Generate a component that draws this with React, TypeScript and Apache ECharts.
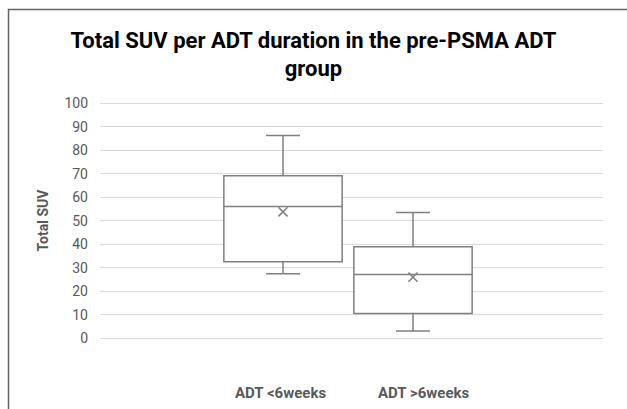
import React, { useEffect, useRef } from "react";
import * as echarts from "echarts";

const titleText = "Total SUV per ADT duration in the pre-PSMA ADT\ngroup";
const yAxisName = "Total SUV";
const categories = ["ADT <6weeks", "ADT >6weeks"];
const minValues = [27.3, 3.0];
const q1Values = [32.5, 10.4];
const medianValues = [56.0, 27.0];
const q3Values = [69.0, 38.8];
const maxValues = [86.2, 53.4];
const meanValues = [53.7, 25.9];

const STROKE = "#7f7f7f";
const TEXT_GRAY = "#595959";
const FONT = "Roboto, 'Open Sans', sans-serif";

export default function App() {
  const ref = useRef<HTMLDivElement>(null);
  useEffect(() => {
    if (!ref.current) return;
    const chart = echarts.init(ref.current, null, { renderer: "svg" });

    const renderItem = (params: any, api: any) => {
      const idx = api.value(0);
      const bandW = api.size([1, 0])[0];
      const boxW = bandW * 0.91;
      const capW = bandW * 0.262;
      const pMin = api.coord([idx, api.value(1)]);
      const pQ1 = api.coord([idx, api.value(2)]);
      const pMed = api.coord([idx, api.value(3)]);
      const pQ3 = api.coord([idx, api.value(4)]);
      const pMax = api.coord([idx, api.value(5)]);
      const pMean = api.coord([idx, api.value(6)]);
      const cx = pMed[0];
      const ls = { stroke: STROKE, lineWidth: 1.5, fill: "none" };
      const xs = 4.6;
      return {
        type: "group",
        children: [
          { type: "line", shape: { x1: cx, y1: pMax[1], x2: cx, y2: pQ3[1] }, style: ls },
          { type: "line", shape: { x1: cx - capW / 2, y1: pMax[1], x2: cx + capW / 2, y2: pMax[1] }, style: ls },
          { type: "line", shape: { x1: cx, y1: pMin[1], x2: cx, y2: pQ1[1] }, style: ls },
          { type: "line", shape: { x1: cx - capW / 2, y1: pMin[1], x2: cx + capW / 2, y2: pMin[1] }, style: ls },
          {
            type: "rect",
            shape: { x: cx - boxW / 2, y: pQ3[1], width: boxW, height: pQ1[1] - pQ3[1] },
            style: { stroke: STROKE, lineWidth: 1.5, fill: "#ffffff" },
          },
          { type: "line", shape: { x1: cx - boxW / 2, y1: pMed[1], x2: cx + boxW / 2, y2: pMed[1] }, style: ls },
          { type: "line", shape: { x1: cx - xs, y1: pMean[1] - xs, x2: cx + xs, y2: pMean[1] + xs }, style: ls },
          { type: "line", shape: { x1: cx - xs, y1: pMean[1] + xs, x2: cx + xs, y2: pMean[1] - xs }, style: ls },
        ],
      };
    };

    const seriesList = categories.map((name, i) => ({
      type: "custom",
      name,
      xAxisIndex: 1,
      yAxisIndex: 1,
      renderItem,
      itemStyle: { color: STROKE },
      encode: { x: 0, y: [1, 2, 3, 4, 5, 6] },
      data: [[i, minValues[i], q1Values[i], medianValues[i], q3Values[i], maxValues[i], meanValues[i]]],
    }));

    chart.setOption({
      animation: false,
      backgroundColor: "#ffffff",
      title: {
        text: titleText,
        left: "center",
        top: 21,
        textStyle: { fontFamily: FONT, fontSize: 22, fontWeight: "bold", color: "#000000", lineHeight: 28 },
      },
      legend: [
        {
          data: [categories[0]],
          left: 230,
          top: 385,
          itemWidth: 0,
          itemHeight: 0,
          padding: 0,
          textStyle: { fontFamily: FONT, fontSize: 15, fontWeight: "bold", color: TEXT_GRAY },
        },
        {
          data: [categories[1]],
          left: 373,
          top: 385,
          itemWidth: 0,
          itemHeight: 0,
          padding: 0,
          textStyle: { fontFamily: FONT, fontSize: 15, fontWeight: "bold", color: TEXT_GRAY },
        },
      ],
      graphic: [
        {
          type: "rect",
          shape: { x: 8.5, y: 9.5, width: 700, height: 500 },
          style: { fill: "none", stroke: "#636363", lineWidth: 1.5 },
          silent: true,
          z: 100,
        },
      ],
      grid: [
        { left: 100, right: 24, top: 103, bottom: 71 },
        { left: 218, width: 260, top: 103, bottom: 71 },
      ],
      xAxis: [
        { type: "category", gridIndex: 0, data: [""], show: false },
        { type: "category", gridIndex: 1, data: categories, show: false },
      ],
      yAxis: [
        {
          type: "value",
          gridIndex: 0,
          min: 0,
          max: 100,
          interval: 10,
          name: yAxisName,
          nameLocation: "middle",
          nameRotate: 90,
          nameGap: 50,
          nameTextStyle: { fontFamily: FONT, fontSize: 14, fontWeight: "bold", color: TEXT_GRAY },
          axisLine: { show: false },
          axisTick: { show: false },
          axisLabel: { margin: 12, fontFamily: FONT, fontSize: 14, color: TEXT_GRAY },
          splitLine: { lineStyle: { color: "#d9d9d9", width: 1 } },
        },
        { type: "value", gridIndex: 1, min: 0, max: 100, show: false },
      ],
      series: seriesList,
    });
    return () => chart.dispose();
  }, []);
  return (
    <div
      ref={ref}
      style={{ position: "absolute", left: 0, top: 0, width: 627, height: 409 }}
    />
  );
}
